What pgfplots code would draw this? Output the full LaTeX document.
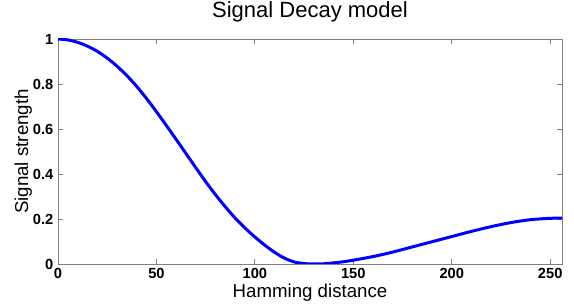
\documentclass[border=0pt]{standalone}
\usepackage{fontspec}
\setmainfont{Liberation Sans}
\usepackage{pgfplots}
\pgfplotsset{compat=1.18}
\definecolor{axgray}{RGB}{128,128,128}
\begin{document}
\begin{tikzpicture}
\begin{axis}[
  name=ax,
  scale only axis,
  width=378pt, height=168.75pt,
  xmin=0, xmax=256, ymin=0, ymax=1,
  xtick={0,50,100,150,200,250},
  ytick={0,0.2,0.4,0.6,0.8,1},
  yticklabels={0,0.2,0.4,0.6,0.8,1},
  /pgf/number format/assume math mode=true,
  tick label style={font=\fontsize{11}{13}\selectfont\bfseries, text=black},
  tick align=inside,
  xtick pos=both, ytick pos=both,
  major tick length=3.75pt,
  axis line style={axgray, line width=0.6pt},
  every tick/.style={axgray, line width=0.6pt},
  title={Signal Decay model},
  title style={font=\fontsize{16.5}{19}\selectfont, at={(axis description cs:0.5,1.062)}, anchor=base},
  xlabel={Hamming distance},
  xlabel style={font=\fontsize{14}{16}\selectfont, at={(axis description cs:0.5,-0.148)}, anchor=base},
  ylabel={Signal strength},
  ylabel style={font=\fontsize{14}{16}\selectfont, at={(axis description cs:-0.0595,0.5)}, anchor=base},
]
\addplot[color={rgb,255:red,0;green,0;blue,255}, line width=2.25pt, smooth] coordinates {
(0,1.0) (5,0.996) (10,0.985) (15,0.968) (20,0.945) (25,0.915) (30,0.879) (35,0.837) (40,0.789)
(45,0.735) (50,0.677) (55,0.616) (60,0.554) (65,0.491) (70,0.428) (75,0.366) (80,0.308) (85,0.254)
(90,0.204) (95,0.160) (100,0.120) (105,0.084) (110,0.052) (115,0.026) (120,0.009) (125,0.002)
(130,0.0) (135,0.001) (140,0.005) (145,0.010) (150,0.017) (160,0.033) (170,0.053) (180,0.076)
(190,0.099) (200,0.122) (210,0.145) (220,0.166) (230,0.184) (240,0.197)
(250,0.203) (256,0.204)
};
\end{axis}
\pgfresetboundingbox
\path ([shift={(-43.5pt,-31.5pt)}]ax.south west) rectangle ([shift={(9pt,29.25pt)}]ax.north east);
\end{tikzpicture}
\end{document}
